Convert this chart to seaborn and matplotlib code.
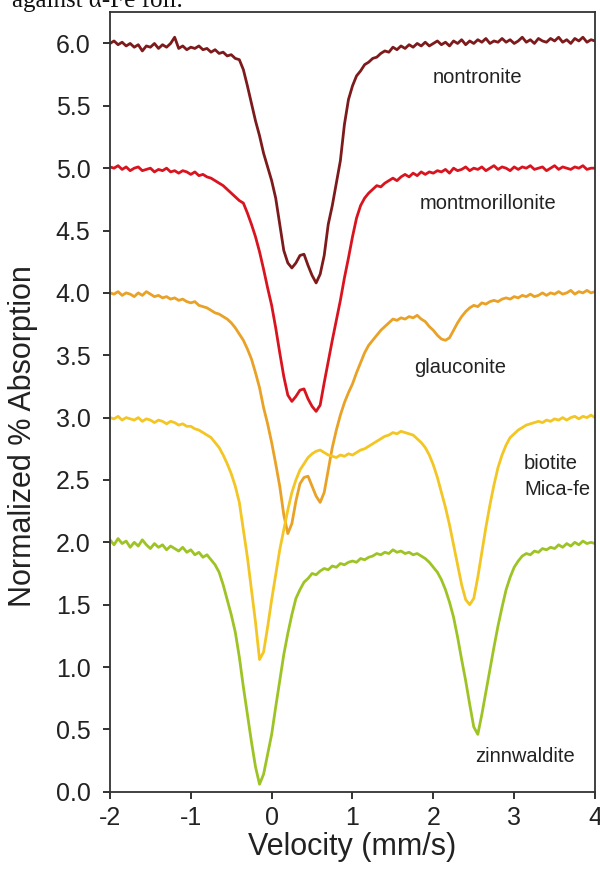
import numpy as np
import pandas as pd
import matplotlib
matplotlib.use("Agg")
import matplotlib.pyplot as plt
import seaborn as sns

# velocity channels, -2 .. 4 mm/s every 0.05
velocity = np.round(np.arange(-2.0, 4.0001, 0.05), 2)

nontronite = [
    6.00, 6.02, 5.99, 6.01, 5.98, 6.00, 5.97, 5.99, 5.94, 5.98, 5.97, 6.00, 5.96, 5.99, 5.97, 6.00, 6.05, 5.96, 5.98, 5.95,
    5.97, 5.96, 5.98, 5.95, 5.96, 5.93, 5.95, 5.92, 5.93, 5.90, 5.91, 5.88, 5.87, 5.79, 5.66, 5.52, 5.38, 5.26, 5.12, 5.01,
    4.90, 4.76, 4.55, 4.34, 4.24, 4.20, 4.24, 4.30, 4.31, 4.22, 4.14, 4.08, 4.15, 4.30, 4.55, 4.70, 4.88, 5.06, 5.35, 5.55,
    5.66, 5.74, 5.78, 5.83, 5.85, 5.88, 5.89, 5.92, 5.94, 5.93, 5.97, 5.95, 5.98, 5.96, 5.99, 5.97, 6.00, 5.98, 6.01, 5.98,
    6.00, 6.02, 5.99, 6.01, 5.98, 6.02, 6.00, 6.03, 5.99, 6.02, 6.00, 6.03, 6.01, 6.04, 6.00, 6.02, 6.01, 6.04, 6.01, 6.03,
    6.00, 6.02, 6.05, 6.01, 6.03, 6.00, 6.04, 6.02, 6.01, 6.04, 6.02, 6.05, 6.01, 6.03, 6.00, 6.04, 6.02, 6.05, 6.01, 6.03,
    6.02]

montmorillonite = [
    5.01, 5.00, 5.02, 4.99, 5.01, 4.98, 5.00, 5.01, 4.98, 4.99, 5.00, 4.97, 4.99, 4.98, 5.00, 4.97, 4.98, 4.96, 4.98, 4.97,
    4.95, 4.97, 4.94, 4.95, 4.93, 4.92, 4.90, 4.88, 4.86, 4.83, 4.80, 4.77, 4.74, 4.72, 4.64, 4.55, 4.45, 4.33, 4.19, 4.04,
    3.90, 3.72, 3.52, 3.33, 3.18, 3.13, 3.17, 3.22, 3.23, 3.15, 3.09, 3.05, 3.10, 3.28, 3.45, 3.62, 3.78, 3.94, 4.12, 4.28,
    4.45, 4.60, 4.70, 4.76, 4.80, 4.83, 4.86, 4.85, 4.88, 4.90, 4.92, 4.90, 4.93, 4.95, 4.93, 4.96, 4.94, 4.97, 4.95, 4.97,
    4.96, 4.98, 4.97, 4.99, 4.96, 5.00, 4.98, 4.99, 5.01, 4.98, 5.00, 4.99, 5.01, 4.98, 5.00, 5.02, 4.99, 5.01, 5.00, 4.98,
    5.01, 4.99, 5.01, 5.00, 5.02, 4.99, 5.00, 5.01, 4.98, 5.00, 5.02, 4.99, 5.01, 5.00, 4.99, 5.01, 5.00, 5.02, 4.99, 5.00,
    5.00]

glauconite = [
    4.00, 3.99, 4.01, 3.98, 4.00, 3.99, 3.97, 4.00, 3.98, 4.01, 3.99, 3.97, 3.98, 3.96, 3.97, 3.95, 3.96, 3.94, 3.95, 3.93,
    3.92, 3.93, 3.90, 3.89, 3.88, 3.86, 3.84, 3.83, 3.81, 3.79, 3.76, 3.72, 3.67, 3.62, 3.55, 3.47, 3.36, 3.24, 3.08, 2.95,
    2.80, 2.63, 2.45, 2.22, 2.07, 2.15, 2.33, 2.47, 2.52, 2.53, 2.45, 2.37, 2.32, 2.40, 2.58, 2.76, 2.90, 3.02, 3.12, 3.20,
    3.27, 3.36, 3.44, 3.52, 3.58, 3.62, 3.66, 3.70, 3.73, 3.76, 3.79, 3.78, 3.80, 3.79, 3.81, 3.80, 3.82, 3.79, 3.77, 3.73,
    3.70, 3.66, 3.63, 3.62, 3.64, 3.70, 3.76, 3.81, 3.85, 3.88, 3.90, 3.89, 3.92, 3.91, 3.93, 3.94, 3.93, 3.95, 3.96, 3.95,
    3.97, 3.96, 3.98, 3.97, 3.99, 3.97, 3.98, 4.00, 3.98, 4.00, 3.99, 4.01, 3.99, 4.00, 4.02, 3.99, 4.01, 4.00, 4.02, 4.00,
    4.01]

biotite = [
    3.00, 2.99, 3.01, 2.98, 3.00, 2.99, 2.98, 3.00, 2.97, 2.99, 2.98, 2.96, 2.98, 2.97, 2.95, 2.97, 2.96, 2.94, 2.95, 2.93,
    2.93, 2.91, 2.90, 2.88, 2.86, 2.84, 2.80, 2.76, 2.70, 2.63, 2.55, 2.45, 2.32, 2.10, 1.88, 1.62, 1.36, 1.06, 1.12, 1.32,
    1.54, 1.74, 1.94, 2.10, 2.26, 2.40, 2.50, 2.58, 2.63, 2.68, 2.71, 2.73, 2.74, 2.72, 2.70, 2.69, 2.68, 2.70, 2.69, 2.71,
    2.70, 2.72, 2.74, 2.75, 2.77, 2.79, 2.81, 2.83, 2.85, 2.86, 2.88, 2.87, 2.89, 2.88, 2.87, 2.86, 2.83, 2.80, 2.76, 2.70,
    2.62, 2.52, 2.40, 2.28, 2.14, 1.98, 1.82, 1.66, 1.54, 1.50, 1.55, 1.72, 1.92, 2.12, 2.30, 2.46, 2.60, 2.70, 2.78, 2.84,
    2.87, 2.90, 2.92, 2.94, 2.95, 2.96, 2.97, 2.96, 2.98, 2.97, 2.99, 2.98, 3.00, 2.98, 3.00, 3.01, 2.99, 3.01, 3.00, 3.02,
    3.00]

zinnwaldite = [
    2.02, 1.98, 2.03, 1.99, 2.01, 1.96, 2.00, 1.97, 2.02, 1.98, 1.95, 1.99, 1.96, 1.98, 1.94, 1.97, 1.95, 1.93, 1.96, 1.92,
    1.94, 1.90, 1.92, 1.88, 1.90, 1.86, 1.82, 1.76, 1.66, 1.54, 1.42, 1.28, 1.08, 0.84, 0.62, 0.40, 0.20, 0.06, 0.14, 0.30,
    0.46, 0.68, 0.89, 1.10, 1.27, 1.42, 1.55, 1.62, 1.68, 1.71, 1.75, 1.74, 1.77, 1.79, 1.78, 1.81, 1.80, 1.83, 1.82, 1.84,
    1.85, 1.84, 1.87, 1.86, 1.88, 1.89, 1.91, 1.90, 1.92, 1.91, 1.94, 1.92, 1.93, 1.91, 1.92, 1.90, 1.91, 1.89, 1.87, 1.84,
    1.80, 1.76, 1.70, 1.62, 1.52, 1.40, 1.24, 1.06, 0.89, 0.70, 0.52, 0.46, 0.62, 0.80, 0.98, 1.16, 1.33, 1.48, 1.62, 1.72,
    1.80, 1.85, 1.89, 1.91, 1.90, 1.93, 1.92, 1.95, 1.94, 1.96, 1.95, 1.98, 1.96, 1.99, 1.97, 2.00, 1.98, 2.01, 1.99, 2.00,
    1.99]

samples = ['nontronite', 'montmorillonite', 'glauconite', 'biotite', 'zinnwaldite']
colors = ['#7d1a1c', '#d9141f', '#e9a126', '#f3c623', '#9dc424']

df = pd.DataFrame({'velocity': np.tile(velocity, 5),
                   'absorption': nontronite + montmorillonite + glauconite + biotite + zinnwaldite,
                   'sample': np.repeat(samples, len(velocity))})

sns.set_style('white')
plt.rcParams['font.family'] = ['Liberation Sans', 'DejaVu Sans']
plt.rcParams['axes.unicode_minus'] = False

fig = plt.figure(figsize=(6, 8.71), dpi=100)
ax = fig.add_axes([0.1833, 0.0910, 0.8084, 0.8949])

sns.lineplot(data=df, x='velocity', y='absorption', hue='sample', hue_order=samples,
             palette=dict(zip(samples, colors)), estimator=None, sort=False,
             linewidth=2.0, legend=False, ax=ax)

# sample names next to the spectra
lab = dict(fontsize=14.5, va='center', color='#222222')
ax.text(2.55, 5.73, 'nontronite', ha='center', **lab)
ax.text(2.68, 4.72, 'montmorillonite', ha='center', **lab)
ax.text(2.33, 3.40, 'glauconite', ha='center', **lab)
ax.text(3.12, 2.63, 'biotite', ha='left', **lab)
ax.text(3.12, 2.42, 'Mica-fe', ha='left', **lab)
ax.text(3.14, 0.28, 'zinnwaldite', ha='center', **lab)

ax.set_xlim(-2, 4)
ax.set_ylim(0, 6.25)
ax.set_xticks([-2, -1, 0, 1, 2, 3, 4])
ax.set_yticks(np.arange(0, 6.01, 0.5))
ax.yaxis.set_major_formatter(matplotlib.ticker.FormatStrFormatter('%.1f'))
ax.tick_params(direction='out', length=5, width=1.3, labelsize=18, colors='#222222',
               left=True, bottom=True)
ax.tick_params(axis='y', pad=9)
ax.tick_params(axis='x', pad=5)
for sp in ax.spines.values():
    sp.set_color('#333333')
    sp.set_linewidth(1.3)

ax.set_xlabel('Velocity (mm/s)', fontsize=22, color='#222222', labelpad=2)
ax.set_ylabel('Normalized % Absorption', fontsize=22, color='#222222')
ax.yaxis.set_label_coords(-0.148, 0.456)

# caption fragment cut off at the top edge
fig.text(0.02, 0.9915, 'against α-Fe foil.', fontsize=18, va='baseline', ha='left',
         family=['Liberation Serif', 'DejaVu Serif'], color='#111111')

fig.savefig('out.png', dpi=100)
